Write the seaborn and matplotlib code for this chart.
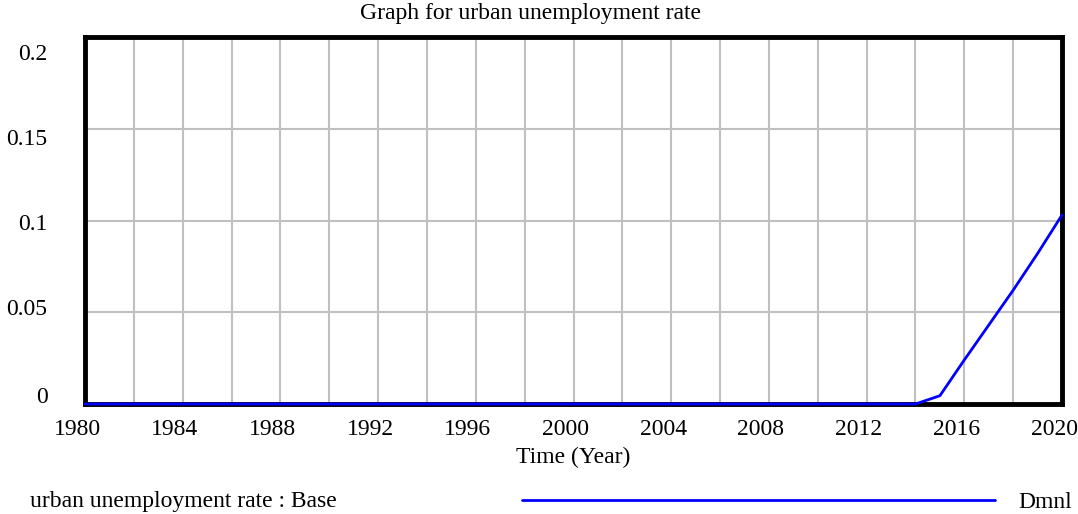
import numpy as np
import pandas as pd
import matplotlib
matplotlib.use("Agg")
import matplotlib.pyplot as plt
import matplotlib.transforms as mtransforms
import seaborn as sns

# data
years = list(range(1980, 2021))
rate = [0.0, 0.0, 0.0, 0.0, 0.0, 0.0, 0.0, 0.0, 0.0, 0.0,
        0.0, 0.0, 0.0, 0.0, 0.0, 0.0, 0.0, 0.0, 0.0, 0.0,
        0.0, 0.0, 0.0, 0.0, 0.0, 0.0, 0.0, 0.0, 0.0, 0.0,
        0.0, 0.0, 0.0, 0.0, 0.0, 0.0045, 0.024, 0.043, 0.062, 0.082,
        0.103]
x_ticks = [1980, 1984, 1988, 1992, 1996, 2000, 2004, 2008, 2012, 2016, 2020]
y_ticks = [0, 0.05, 0.1, 0.15, 0.2]
y_tick_labels = ["0", "0.05", "0.1", "0.15", "0.2"]

df = pd.DataFrame({"Time": years, "rate": rate})

sns.set_style("white")
plt.rcParams["font.family"] = ["Liberation Serif", "DejaVu Serif"]
plt.rcParams["text.color"] = "black"
plt.rcParams["axes.labelcolor"] = "black"
plt.rcParams["xtick.color"] = "black"
plt.rcParams["ytick.color"] = "black"

fs = 17
fig = plt.figure(figsize=(10.78, 5.14), dpi=100)
ax = fig.add_axes([85 / 1078, 1 - 404 / 514, (1062 - 85) / 1078, (404 - 37) / 514])

sns.lineplot(data=df, x="Time", y="rate", color="#0000ff", linewidth=2,
             ax=ax, zorder=5, clip_on=False)

ax.set_xlim(1980, 2020)
ax.set_ylim(0, 0.2)
ax.set_xticks(x_ticks)
ax.set_xticks(range(1980, 2021, 2), minor=True)
ax.set_yticks(y_ticks)
ax.set_yticklabels(y_tick_labels)
ax.grid(True, which="both", color="#c0c0c0", linewidth=1.5)
ax.tick_params(which="both", length=0, labelsize=fs, labelcolor="black")
ax.tick_params(axis="x", pad=11)
ax.tick_params(axis="y", pad=27)
for s in ax.spines.values():
    s.set_color("black")
    s.set_linewidth(3.5)
ax.set_xlabel("Time (Year)", fontsize=fs, labelpad=5, color="black")
ax.set_ylabel("")

# Vensim-style label placement: x labels nudged left, y labels squeezed inwards
for lab in ax.get_xticklabels():
    lab.set_transform(lab.get_transform() +
                      mtransforms.ScaledTranslation(-8 / 100, 0, fig.dpi_scale_trans))
y_shift = {"0": 9, "0.05": 5.5, "0.1": -2, "0.15": -8.5, "0.2": -15}
for lab in ax.get_yticklabels():
    dy = y_shift.get(lab.get_text(), 0)
    lab.set_transform(lab.get_transform() +
                      mtransforms.ScaledTranslation(0, dy / 100, fig.dpi_scale_trans))

fig.text(530 / 1078, 1 - 13 / 514, "Graph for urban unemployment rate",
         ha="center", va="center", fontsize=fs)

# legend row
fig.text(30 / 1078, 1 - 502 / 514, "urban unemployment rate : Base",
         ha="left", va="center", fontsize=fs)
fig.add_artist(plt.Line2D([522 / 1078, 995 / 1078], [1 - 500 / 514, 1 - 500 / 514],
                          color="#0000ff", linewidth=2))
fig.text(1072 / 1078, 1 - 502 / 514, "Dmnl", ha="right", va="center", fontsize=fs)

fig.savefig("out.png", dpi=100)
